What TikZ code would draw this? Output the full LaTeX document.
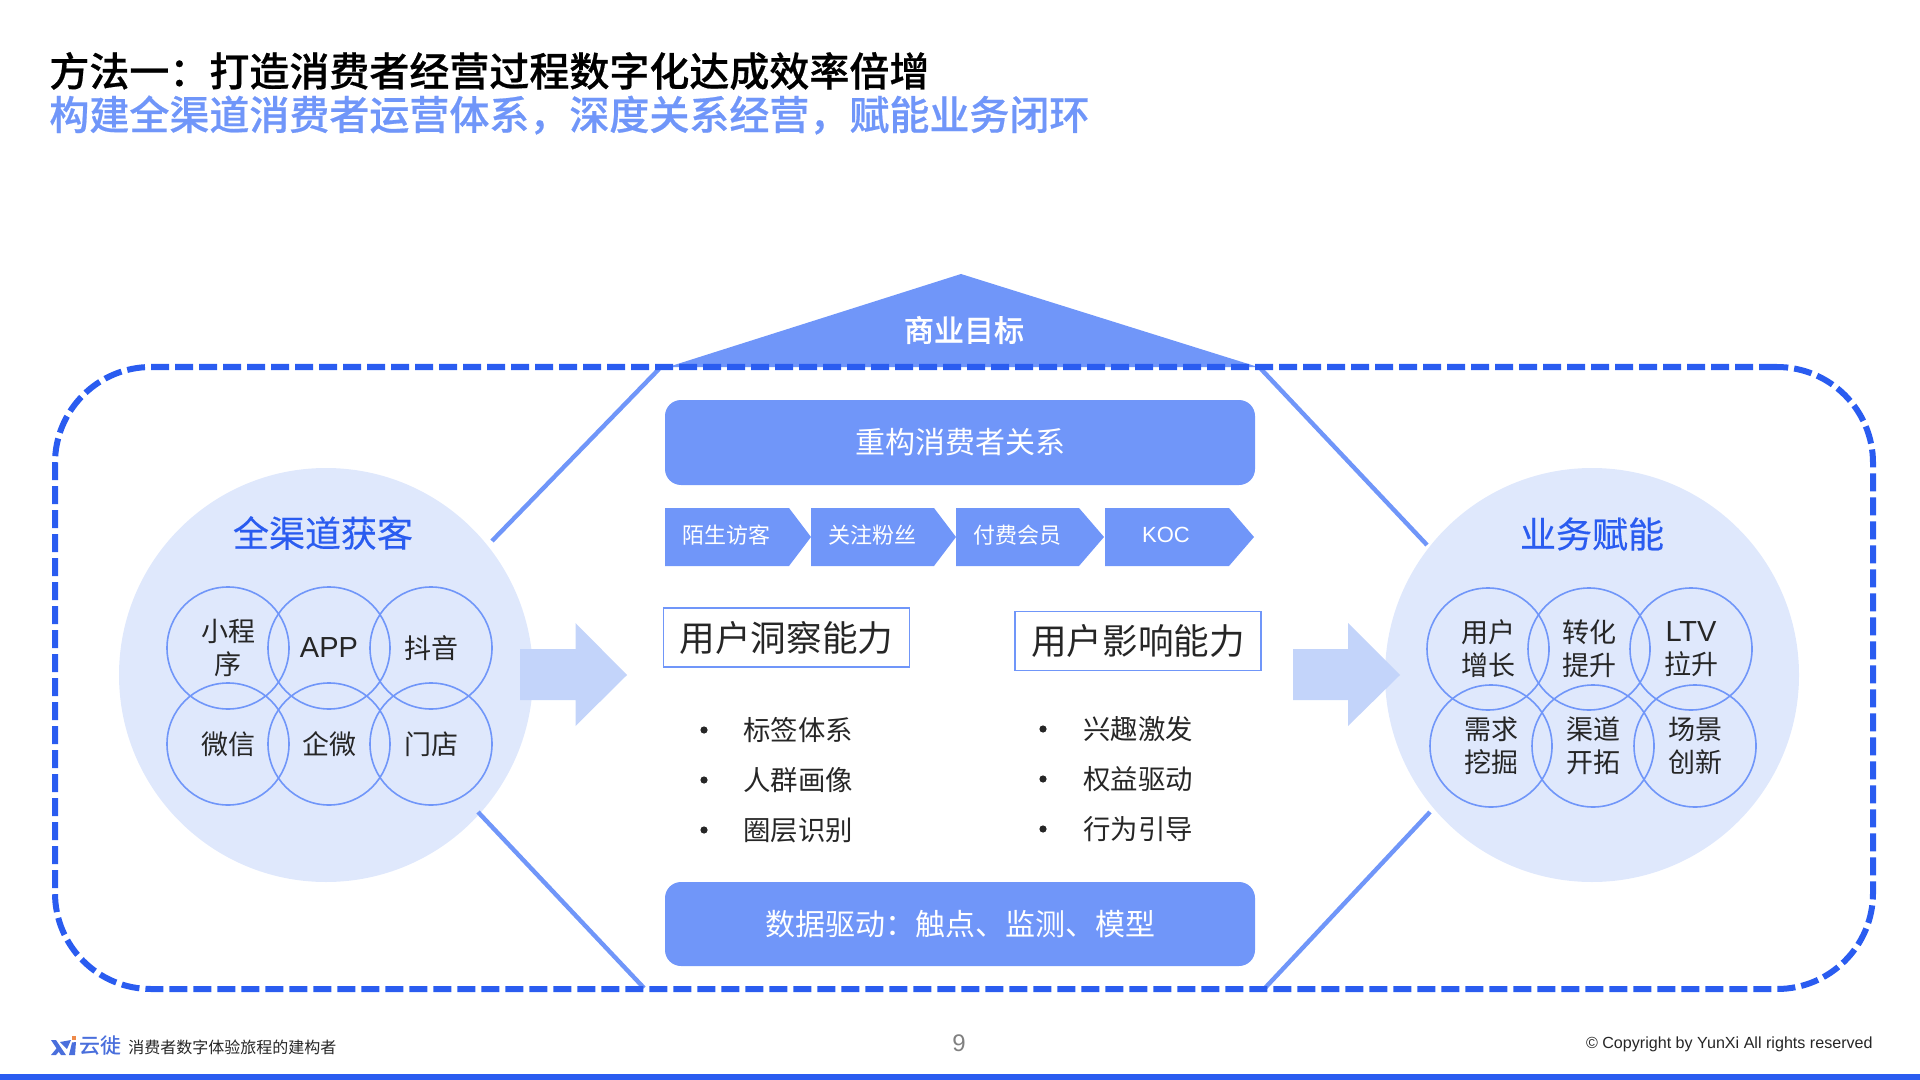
\documentclass[tikz,border=0pt]{standalone}
\usepackage{fontspec}
\setmainfont{Noto Sans CJK SC}
\newfontfamily\latinface{Liberation Sans}
\newfontfamily\mediumface{Noto Sans CJK SC Medium}
\newfontfamily\titleface[FakeBold=0.5]{Noto Sans CJK SC Medium}
\newfontfamily\headface[FakeBold=0.35]{Noto Sans CJK SC}
\definecolor{royal}{HTML}{2A5CF0}
\definecolor{periw}{HTML}{7096F9}
\definecolor{palefill}{HTML}{DFE8FC}
\definecolor{arrowfill}{HTML}{C3D4FA}
\definecolor{inkdark}{HTML}{262626}
\definecolor{logoblue}{HTML}{4A6FDC}
\definecolor{logoorange}{HTML}{EE8A4A}
\newcommand{\sized}[2]{\fontsize{#1pt}{#2pt}\selectfont}
\tikzset{
  x=0.5pt,y=-0.5pt,
  halo/.style={circle,fill=palefill,minimum size=207pt,inner sep=0pt},
  bubble/.style={circle,draw=periw,line width=.8pt,minimum size=61pt,inner sep=0pt,
    align=center,text=inkdark,font=\sized{13.5}{16.5}},
  bar/.style={rectangle,rounded corners=8pt,fill=periw,minimum width=295pt,
    text=white,font=\sized{15}{18}},
  stagetext/.style={text=white,font=\sized{11}{13}},
  capability/.style={rectangle,draw=periw,line width=.8pt,minimum width=123pt,
    minimum height=29.5pt,text=inkdark,font=\sized{17.8}{21},inner sep=0pt},
  bulletitem/.style={text=inkdark,font=\sized{13.7}{16}},
  heading/.style={text=royal,font=\headface\sized{18}{21}},
  bigarrow/.style={fill=arrowfill},
  spoke/.style={draw=periw,line width=2.2pt},
}
\begin{document}
\begin{tikzpicture}
\useasboundingbox (0,0) rectangle (1920,1080);

% titles
\node[anchor=west,inner sep=0pt,font=\titleface\sized{20}{24},text=black] (title) at (49,71)
  {方法一：打造消费者经营过程数字化达成效率倍增};
\node[anchor=west,inner sep=0pt,font=\titleface\sized{20}{24},text=periw] (subtitle) at (49,115)
  {构建全渠道消费者运营体系，深度关系经营，赋能业务闭环};

% roof triangle
\fill[periw] (668,367) -- (961,274) -- (1258,367) -- cycle;
\node[text=white,font=\titleface\sized{15}{18}] (goal) at (964,330) {商业目标};

% side circles
\node[halo] (leftzone) at (326,675) {};
\node[halo] (rightzone) at (1592,675) {};

% free ends of the spokes
\coordinate (tlA) at (492,541); \coordinate (tlB) at (659,369);
\coordinate (trA) at (1427,545); \coordinate (trB) at (1261,369);
\coordinate (blA) at (478,812); \coordinate (blB) at (644,988);
\coordinate (brA) at (1430,812); \coordinate (brB) at (1265,988);
\draw[spoke] (tlA) -- (tlB);
\draw[spoke] (trA) -- (trB);
\draw[spoke] (blA) -- (blB);
\draw[spoke] (brA) -- (brB);

% dashed frame
\node[rectangle,draw=royal,line width=3pt,dash pattern=on 9pt off 3pt,rounded corners=48pt,
  minimum width=909pt,minimum height=311pt,inner sep=0pt] (frame) at (964,678) {};

% centre bars
\node[bar,minimum height=42.5pt] (rebuild) at (960,442.5) {重构消费者关系};
\node[bar,minimum height=42pt] (datadrive) at (960,924) {数据驱动：触点、监测、模型};

% stage chevrons
\fill[periw] (665,508) -- (789,508) -- (811,537) -- (789,566) -- (665,566) -- cycle;
\fill[periw] (811,508) -- (934,508) -- (956,537) -- (934,566) -- (811,566) -- cycle;
\fill[periw] (956,508) -- (1079,508) -- (1104,537) -- (1079,566) -- (956,566) -- cycle;
\fill[periw] (1105,508) -- (1229,508) -- (1254,537) -- (1229,566) -- (1105,566) -- cycle;
\node[stagetext] (stageA) at (726,535) {陌生访客};
\node[stagetext] (stageB) at (872,535) {关注粉丝};
\node[stagetext] (stageC) at (1017,535) {付费会员};
\node[stagetext] (stageD) at (1166,535) {\latinface KOC};

% capability boxes
\node[capability] (insight) at (786.5,637.5) {用户洞察能力};
\node[capability] (influence) at (1138,641) {用户影响能力};

% capability lists
\foreach \name/\yy/\label in {a/730/标签体系,b/780/人群画像,c/830/圈层识别}{
  \node[bulletitem] (l\name) at (798,\yy) {\label};
  \fill[inkdark] (704,\yy) circle (3.6);
}
\foreach \name/\yy/\label in {a/729/兴趣激发,b/779/权益驱动,c/829/行为引导}{
  \node[bulletitem] (r\name) at (1138,\yy) {\label};
  \fill[inkdark] (1043,\yy) circle (3.6);
}

% block arrows
\fill[bigarrow] (520,649) -- (575.5,649) -- (575.5,623) -- (627,675) -- (575.5,726) -- (575.5,700) -- (520,700) -- cycle;
\fill[bigarrow] (1293,649) -- (1348,649) -- (1348,623) -- (1400,675) -- (1348,726) -- (1348,700) -- (1293,700) -- cycle;

% channel circles
\node[heading] (leftlabel) at (323,533) {全渠道获客};
\node[bubble] (c1) at (228,648) {小程\\序};
\node[bubble] (c2) at (329,648) {\latinface\sized{14.5}{16.5}APP};
\node[bubble] (c3) at (431,648) {抖音};
\node[bubble] (c4) at (228,744) {微信};
\node[bubble] (c5) at (329,744) {企微};
\node[bubble] (c6) at (431,744) {门店};

% business circles
\node[heading] (rightlabel) at (1592,534) {业务赋能};
\node[bubble] (d1) at (1488,649) {用户\\增长};
\node[bubble] (d2) at (1589,649) {转化\\提升};
\node[bubble] (d3) at (1691,649) {{\latinface\sized{14.5}{16.5}LTV}\\拉升};
\node[bubble] (d4) at (1491,746) {需求\\挖掘};
\node[bubble] (d5) at (1593,746) {渠道\\开拓};
\node[bubble] (d6) at (1695,746) {场景\\创新};

% footer with brand mark
\fill[royal] (0,1074) rectangle (1920,1080);
\fill[logoblue] (51,1040) -- (56,1040) -- (66,1055) -- (61,1055) -- cycle;
\fill[logoblue] (51,1055) -- (56,1055) -- (61,1049) -- (58.5,1046) -- cycle;
\fill[logoblue] (60,1042) -- (71,1040) -- (67,1049) -- (64.5,1046.5) -- cycle;
\fill[logoblue] (72,1042.5) -- (76,1042) -- (75,1055) -- (69,1055) -- cycle;
\fill[logoorange] (72,1036) rectangle (76,1040);
\node[anchor=west,inner sep=0pt,text=logoblue,font=\mediumface\sized{10.5}{12}] (brand) at (79,1046) {云徙};
\node[anchor=west,inner sep=0pt,text=inkdark,font=\sized{8}{10}] (slogan) at (128,1047) {消费者数字体验旅程的建构者};
\node[text=gray,font=\latinface\sized{12}{14}] (pageno) at (959,1043) {9};
\node[anchor=east,inner sep=0pt,text=inkdark,font=\latinface\sized{8.05}{9}] (rights) at (1873,1044)
  {© Copyright by YunXi All rights reserved};
\end{tikzpicture}
\end{document}
